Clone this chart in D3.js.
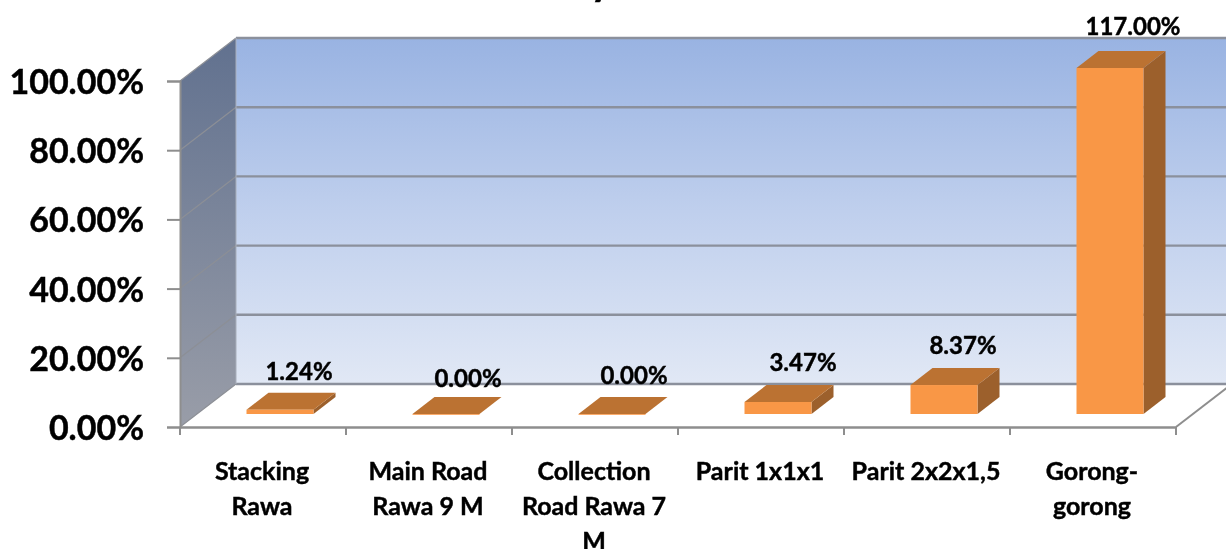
<!DOCTYPE html>
<html><head><meta charset="utf-8">
<script src="https://cdn.jsdelivr.net/npm/d3@7"></script>
<style>
html,body{margin:0;padding:0;background:#fff;overflow:hidden}
svg{display:block;font-family:Lato,"Open Sans",sans-serif;font-weight:700;color:#000;filter:blur(0.45px)}
text{stroke:#000;stroke-width:0.45px;paint-order:stroke}
</style></head><body>
<svg id="c" width="1226" height="549"></svg>
<script>
const categories = ["Stacking Rawa","Main Road Rawa 9 M","Collection Road Rawa 7 M","Parit 1x1x1","Parit 2x2x1,5","Gorong-gorong"];
const categoryLines = [["Stacking","Rawa"],["Main Road","Rawa 9 M"],["Collection","Road Rawa 7","M"],["Parit 1x1x1"],["Parit 2x2x1,5"],["Gorong-","gorong"]];
const values = [1.24,0,0,3.47,8.37,117];
const valueLabels = ["1.24%","0.00%","0.00%","3.47%","8.37%","117.00%"];
const yTicks = [0,20,40,60,80,100];

const svg = d3.select("#c");
const defs = svg.append("defs");
function grad(id,stops){
  const g = defs.append("linearGradient").attr("id",id).attr("x1",0).attr("y1",0).attr("x2",0).attr("y2",1);
  stops.forEach(([o,c])=>g.append("stop").attr("offset",o).attr("stop-color",c));
}
grad("wall",[[0,"#99b3e2"],[0.5,"#bfcfed"],[1,"#e1e8f5"]]);
grad("side",[[0,"#61718f"],[1,"#999da8"]]);

const x0 = 180, x1 = 1176, depthX = 56, depthY = 43;
const xAxisBand = d3.scaleBand().domain(categories).range([x0,x1]);
const y = d3.scaleLinear().domain([0,100]).range([427,81]).clamp(true);

const barW = 67, barDX = 22, barDY = 17, barOffX = 17, barOffY = 13;
const barLeft = c => xAxisBand(c) + xAxisBand.bandwidth()/2 - barW/2 + barOffX;
const poly = pts => pts.map(p=>p.join(",")).join(" ");

// back wall
svg.append("polygon")
  .attr("points",poly([[x0+depthX,y(100)-depthY],[x1+depthX,y(100)-depthY],[x1+depthX,y(0)-depthY],[x0+depthX,y(0)-depthY]]))
  .attr("fill","url(#wall)");
// side wall
svg.append("polygon")
  .attr("points",poly([[x0,y(100)],[x0+depthX,y(100)-depthY],[x0+depthX,y(0)-depthY],[x0,y(0)]]))
  .attr("fill","url(#side)");

// gridlines
yTicks.forEach(t=>{
  svg.append("line").attr("x1",x0+depthX).attr("x2",x1+depthX).attr("y1",y(t)-depthY).attr("y2",y(t)-depthY)
    .attr("stroke","#8b909c").attr("stroke-width",2.4);
  svg.append("line").attr("x1",x0).attr("x2",x0+depthX).attr("y1",y(t)).attr("y2",y(t)-depthY)
    .attr("stroke","#8c8f96").attr("stroke-width",1.2);
});
svg.append("line").attr("x1",x0+depthX).attr("x2",x0+depthX).attr("y1",y(100)-depthY).attr("y2",y(0)-depthY)
  .attr("stroke","#a9afbb").attr("stroke-width",1);
// floor right edge
svg.append("line").attr("x1",x1).attr("x2",x1+depthX).attr("y1",y(0)).attr("y2",y(0)-depthY)
  .attr("stroke","#8e8e8e").attr("stroke-width",2);

// y axis
const yAxis = svg.append("g").attr("transform",`translate(${x0},0)`)
  .call(d3.axisLeft(y).tickValues(yTicks).tickSize(13).tickPadding(23).tickFormat(d=>d3.format(".2f")(d)+"%"));
yAxis.selectAll("path,line").attr("stroke","#8e8e8e").attr("stroke-width",2);
yAxis.selectAll("text").attr("font-size",34).attr("font-family","Lato").attr("font-weight",700).attr("fill","#000").attr("dy","0.37em");

// x axis
const xAxis = svg.append("g").attr("transform",`translate(0,${y(0)})`)
  .call(d3.axisBottom(xAxisBand).tickValues([]).tickSize(0));
xAxis.selectAll("path").attr("stroke","#8e8e8e").attr("stroke-width",2.4);
const edges = categories.map(c=>xAxisBand(c)).concat([x1]);
svg.selectAll(".xtick").data(edges).join("line").attr("class","xtick")
  .attr("x1",d=>d).attr("x2",d=>d).attr("y1",y(0)).attr("y2",y(0)+8)
  .attr("stroke","#8e8e8e").attr("stroke-width",2);

const xText = svg.selectAll(".xlab").data(categories).join("text").attr("class","xlab")
  .attr("text-anchor","middle").attr("font-size",25).attr("fill","#000");
xText.each(function(c,i){
  d3.select(this).selectAll("tspan").data(categoryLines[i]).join("tspan")
    .attr("x",xAxisBand(c)+xAxisBand.bandwidth()/2 - 1)
    .attr("y",(d,j)=>480+j*35)
    .text(d=>d);
});

// bars
const bars = svg.selectAll(".bar").data(categories).join("g").attr("class","bar");
bars.each(function(c,i){
  const g = d3.select(this), l = barLeft(c), r = l+barW;
  const b = y(0)-barOffY, t = y(values[i])-barOffY;
  g.append("polygon").attr("points",poly([[r,t],[r+barDX,t-barDY],[r+barDX,b-barDY],[r,b]])).attr("fill","#9c602c");
  g.append("polygon").attr("points",poly([[l,t],[l+barW,t],[r+barDX,t-barDY],[l+barDX,t-barDY]])).attr("fill","#bb7232");
  g.append("rect").attr("x",l).attr("y",t).attr("width",barW).attr("height",Math.max(b-t,0.8)).attr("fill","#f99746");
});

// value labels
const labelGap = [13,10,13,14,14,16];
const labelShift = [-3,0,0,3,-3,1];
svg.selectAll(".vlab").data(categories).join("text").attr("class","vlab")
  .attr("text-anchor","middle").attr("font-size",24).attr("fill","#000")
  .attr("x",(c,i)=>barLeft(c)+barW/2+barDX+labelShift[i])
  .attr("y",(c,i)=>y(values[i])-barOffY-barDY-labelGap[i])
  .text((c,i)=>valueLabels[i]);

// clipped title remnant
svg.append("text").attr("x",601).attr("y",-5).attr("text-anchor","middle").attr("font-size",40).attr("fill","#000").text("y");
</script>
</body></html>
